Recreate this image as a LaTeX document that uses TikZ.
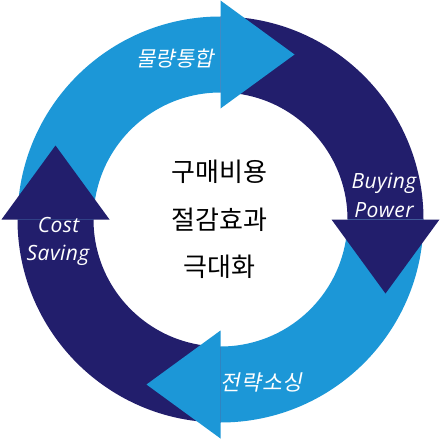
\documentclass[tikz,border=0pt]{standalone}
\usepackage{fontspec}
\usetikzlibrary{calc}
\newfontfamily\krfont{Noto Sans CJK KR}
\newfontfamily\krslant[FakeSlant=0.2]{Noto Sans CJK KR}
\newfontfamily\krslantwide[FakeSlant=0.2,LetterSpace=5]{Noto Sans CJK KR}
\newfontfamily\labfont[LetterSpace=2]{Open Sans}
\definecolor{lightb}{RGB}{28,151,215}
\definecolor{darkb}{RGB}{34,30,108}
\begin{document}
\begin{tikzpicture}[x=1pt,y=1pt,
  lab/.style={text=white,inner sep=0pt,font=\labfont\itshape\fontsize{21}{21}\selectfont},
  krlab/.style={text=white,inner sep=0pt,font=\krslant\fontsize{21}{21}\selectfont},
  ctr/.style={text=black,inner sep=0pt,font=\krfont\fontsize{26}{26}\selectfont}]
\useasboundingbox (0,0) rectangle (441,440);
\coordinate (C) at (220.5,220.5);
\def\Ro{203}
\def\Ri{127}
% ring segments
\fill[lightb] ($(C)+(180:\Ro)$) arc[start angle=180,end angle=90,radius=\Ro] -- ($(C)+(90:\Ri)$) arc[start angle=90,end angle=180,radius=\Ri] -- cycle;
\fill[darkb] ($(C)+(90:\Ro)$) arc[start angle=90,end angle=0,radius=\Ro] -- ($(C)+(0:\Ri)$) arc[start angle=0,end angle=90,radius=\Ri] -- cycle;
\fill[lightb] ($(C)+(0:\Ro)$) arc[start angle=0,end angle=-90,radius=\Ro] -- ($(C)+(-90:\Ri)$) arc[start angle=-90,end angle=0,radius=\Ri] -- cycle;
\fill[darkb] ($(C)+(-90:\Ro)$) arc[start angle=-90,end angle=-180,radius=\Ro] -- ($(C)+(180:\Ri)$) arc[start angle=180,end angle=270,radius=\Ri] -- cycle;
% arrowheads
\fill[lightb] ($(C)+(0,219)$) -- ($(C)+(0,111)$) -- ($(C)+(74,165)$) -- cycle;
\fill[darkb] ($(C)+(219,0)$) -- ($(C)+(111,0)$) -- ($(C)+(165,-74)$) -- cycle;
\fill[lightb] ($(C)+(0,-219)$) -- ($(C)+(0,-111)$) -- ($(C)+(-74,-165)$) -- cycle;
\fill[darkb] ($(C)+(-219,0)$) -- ($(C)+(-111,0)$) -- ($(C)+(-165,74)$) -- cycle;
% labels
\node[krlab] (t1) at (175,381) {물량통합};
\node[krlab,font=\krslantwide\fontsize{21.5}{21.5}\selectfont] (t3) at (261.5,57.5) {전략소싱};
\node[lab,anchor=base] (b1) at (384,252) {Buying};
\node[lab,anchor=base] (b2) at (384,223) {Power};
\node[lab,anchor=base] (c1) at (58.5,208) {Cost};
\node[lab,anchor=base] (c2) at (58,180) {Saving};
\node[ctr] (m1) at (219.5,268) {구매비용};
\node[ctr] (m2) at (219.5,220.5) {절감효과};
\node[ctr] (m3) at (219.5,173) {극대화};
\end{tikzpicture}
\end{document}
